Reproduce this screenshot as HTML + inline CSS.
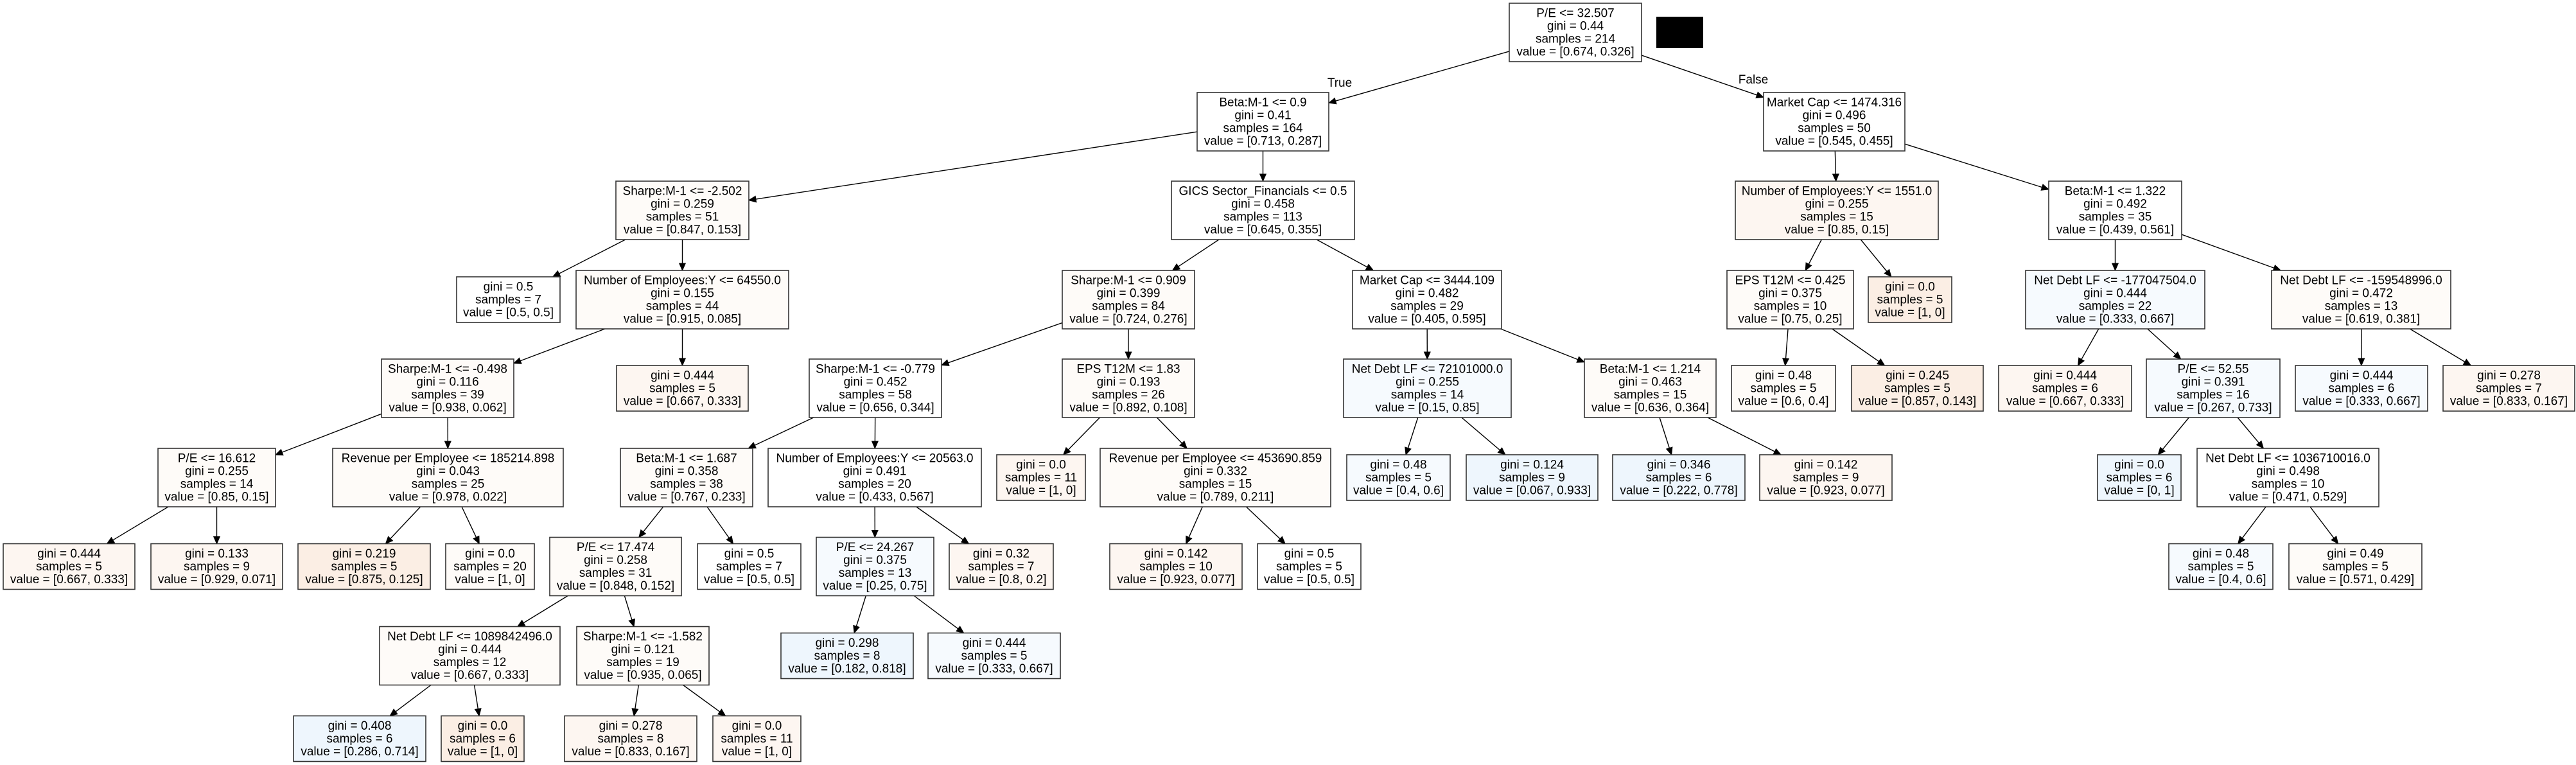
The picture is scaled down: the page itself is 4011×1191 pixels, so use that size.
<!DOCTYPE html>
<html><head><meta charset="utf-8"><style>
html,body{margin:0;padding:0;background:#fff;}
svg{display:block;}
text{font-family:"Liberation Sans",Arial,sans-serif;font-size:19px;fill:#000;text-anchor:middle;}
rect{stroke:#333;stroke-width:1.6;}
.w{fill:#ffffff}.o1{fill:#fefbf8}.o2{fill:#fdf6f1}.o3{fill:#fbeee4}.b1{fill:#f6fafe}.b2{fill:#eef6fd}
</style></head><body>
<svg id="s" width="4011" height="1191" viewBox="0 0 4011 1191" xmlns="http://www.w3.org/2000/svg">
<rect x="0" y="0" width="4011" height="1191" style="fill:#fff;stroke:none"/>
<g id="edges"></g>
<rect x="2579" y="26" width="73" height="49" style="fill:#000;stroke:none"/>
<text x="2086" y="135">True</text>
<text x="2730" y="130">False</text>

<rect id="n0" class="w" x="2350" y="5" width="206" height="91"/><text y="26.5"><tspan x="2453">P/E &lt;= 32.507</tspan><tspan x="2453" dy="20">gini = 0.44</tspan><tspan x="2453" dy="20">samples = 214</tspan><tspan x="2453" dy="20">value = [0.674, 0.326]</tspan></text>

<rect id="n1" class="w" x="1864" y="144" width="205" height="91"/><text y="165.5"><tspan x="1966.5">Beta:M-1 &lt;= 0.9</tspan><tspan x="1966.5" dy="20">gini = 0.41</tspan><tspan x="1966.5" dy="20">samples = 164</tspan><tspan x="1966.5" dy="20">value = [0.713, 0.287]</tspan></text>
<rect id="n2" class="w" x="2746" y="144" width="220" height="91"/><text y="165.5"><tspan x="2856">Market Cap &lt;= 1474.316</tspan><tspan x="2856" dy="20">gini = 0.496</tspan><tspan x="2856" dy="20">samples = 50</tspan><tspan x="2856" dy="20">value = [0.545, 0.455]</tspan></text>

<rect id="n3" class="o1" x="959" y="282" width="207" height="91"/><text y="303.5"><tspan x="1062.5">Sharpe:M-1 &lt;= -2.502</tspan><tspan x="1062.5" dy="20">gini = 0.259</tspan><tspan x="1062.5" dy="20">samples = 51</tspan><tspan x="1062.5" dy="20">value = [0.847, 0.153]</tspan></text>
<rect id="n4" class="w" x="1824" y="282" width="285" height="91"/><text y="303.5"><tspan x="1966.5">GICS Sector_Financials &lt;= 0.5</tspan><tspan x="1966.5" dy="20">gini = 0.458</tspan><tspan x="1966.5" dy="20">samples = 113</tspan><tspan x="1966.5" dy="20">value = [0.645, 0.355]</tspan></text>
<rect id="n5" class="o2" x="2702" y="282" width="316" height="91"/><text y="303.5"><tspan x="2860">Number of Employees:Y &lt;= 1551.0</tspan><tspan x="2860" dy="20">gini = 0.255</tspan><tspan x="2860" dy="20">samples = 15</tspan><tspan x="2860" dy="20">value = [0.85, 0.15]</tspan></text>
<rect id="n6" class="w" x="3190" y="282" width="207" height="91"/><text y="303.5"><tspan x="3293.5">Beta:M-1 &lt;= 1.322</tspan><tspan x="3293.5" dy="20">gini = 0.492</tspan><tspan x="3293.5" dy="20">samples = 35</tspan><tspan x="3293.5" dy="20">value = [0.439, 0.561]</tspan></text>

<rect id="n7" class="w" x="711" y="431" width="161" height="71"/><text y="452.5"><tspan x="791.5">gini = 0.5</tspan><tspan x="791.5" dy="20">samples = 7</tspan><tspan x="791.5" dy="20">value = [0.5, 0.5]</tspan></text>
<rect id="n8" class="o1" x="897" y="421" width="331" height="91"/><text y="442.5"><tspan x="1062.5">Number of Employees:Y &lt;= 64550.0</tspan><tspan x="1062.5" dy="20">gini = 0.155</tspan><tspan x="1062.5" dy="20">samples = 44</tspan><tspan x="1062.5" dy="20">value = [0.915, 0.085]</tspan></text>
<rect id="n9" class="o1" x="1654" y="421" width="206" height="91"/><text y="442.5"><tspan x="1757">Sharpe:M-1 &lt;= 0.909</tspan><tspan x="1757" dy="20">gini = 0.399</tspan><tspan x="1757" dy="20">samples = 84</tspan><tspan x="1757" dy="20">value = [0.724, 0.276]</tspan></text>
<rect id="n10" class="w" x="2106" y="421" width="232" height="91"/><text y="442.5"><tspan x="2222">Market Cap &lt;= 3444.109</tspan><tspan x="2222" dy="20">gini = 0.482</tspan><tspan x="2222" dy="20">samples = 29</tspan><tspan x="2222" dy="20">value = [0.405, 0.595]</tspan></text>
<rect id="n11" class="o1" x="2689" y="421" width="197" height="91"/><text y="442.5"><tspan x="2787.5">EPS T12M &lt;= 0.425</tspan><tspan x="2787.5" dy="20">gini = 0.375</tspan><tspan x="2787.5" dy="20">samples = 10</tspan><tspan x="2787.5" dy="20">value = [0.75, 0.25]</tspan></text>
<rect id="n12" class="o3" x="2909" y="431" width="130" height="71"/><text y="452.5"><tspan x="2974">gini = 0.0</tspan><tspan x="2974" dy="20">samples = 5</tspan><tspan x="2974" dy="20">value = [1, 0]</tspan></text>
<rect id="n13" class="b1" x="3154" y="421" width="279" height="91"/><text y="442.5"><tspan x="3293.5">Net Debt LF &lt;= -177047504.0</tspan><tspan x="3293.5" dy="20">gini = 0.444</tspan><tspan x="3293.5" dy="20">samples = 22</tspan><tspan x="3293.5" dy="20">value = [0.333, 0.667]</tspan></text>
<rect id="n14" class="o1" x="3537" y="421" width="279" height="91"/><text y="442.5"><tspan x="3676.5">Net Debt LF &lt;= -159548996.0</tspan><tspan x="3676.5" dy="20">gini = 0.472</tspan><tspan x="3676.5" dy="20">samples = 13</tspan><tspan x="3676.5" dy="20">value = [0.619, 0.381]</tspan></text>

<rect id="n15" class="o1" x="594" y="559" width="206" height="91"/><text y="580.5"><tspan x="697">Sharpe:M-1 &lt;= -0.498</tspan><tspan x="697" dy="20">gini = 0.116</tspan><tspan x="697" dy="20">samples = 39</tspan><tspan x="697" dy="20">value = [0.938, 0.062]</tspan></text>
<rect id="n16" class="o2" x="960" y="569" width="205" height="71"/><text y="590.5"><tspan x="1062.5">gini = 0.444</tspan><tspan x="1062.5" dy="20">samples = 5</tspan><tspan x="1062.5" dy="20">value = [0.667, 0.333]</tspan></text>
<rect id="n17" class="w" x="1260" y="559" width="206" height="91"/><text y="580.5"><tspan x="1363">Sharpe:M-1 &lt;= -0.779</tspan><tspan x="1363" dy="20">gini = 0.452</tspan><tspan x="1363" dy="20">samples = 58</tspan><tspan x="1363" dy="20">value = [0.656, 0.344]</tspan></text>
<rect id="n18" class="o1" x="1654" y="559" width="206" height="91"/><text y="580.5"><tspan x="1757">EPS T12M &lt;= 1.83</tspan><tspan x="1757" dy="20">gini = 0.193</tspan><tspan x="1757" dy="20">samples = 26</tspan><tspan x="1757" dy="20">value = [0.892, 0.108]</tspan></text>
<rect id="n19" class="b1" x="2092" y="559" width="261" height="91"/><text y="580.5"><tspan x="2222.5">Net Debt LF &lt;= 72101000.0</tspan><tspan x="2222.5" dy="20">gini = 0.255</tspan><tspan x="2222.5" dy="20">samples = 14</tspan><tspan x="2222.5" dy="20">value = [0.15, 0.85]</tspan></text>
<rect id="n20" class="o1" x="2467" y="559" width="205" height="91"/><text y="580.5"><tspan x="2569.5">Beta:M-1 &lt;= 1.214</tspan><tspan x="2569.5" dy="20">gini = 0.463</tspan><tspan x="2569.5" dy="20">samples = 15</tspan><tspan x="2569.5" dy="20">value = [0.636, 0.364]</tspan></text>
<rect id="n21" class="o1" x="2696" y="569" width="162" height="71"/><text y="590.5"><tspan x="2777">gini = 0.48</tspan><tspan x="2777" dy="20">samples = 5</tspan><tspan x="2777" dy="20">value = [0.6, 0.4]</tspan></text>
<rect id="n22" class="o3" x="2883" y="569" width="205" height="71"/><text y="590.5"><tspan x="2985.5">gini = 0.245</tspan><tspan x="2985.5" dy="20">samples = 5</tspan><tspan x="2985.5" dy="20">value = [0.857, 0.143]</tspan></text>
<rect id="n23" class="o2" x="3112" y="569" width="207" height="71"/><text y="590.5"><tspan x="3215.5">gini = 0.444</tspan><tspan x="3215.5" dy="20">samples = 6</tspan><tspan x="3215.5" dy="20">value = [0.667, 0.333]</tspan></text>
<rect id="n24" class="b1" x="3342" y="559" width="208" height="91"/><text y="580.5"><tspan x="3446">P/E &lt;= 52.55</tspan><tspan x="3446" dy="20">gini = 0.391</tspan><tspan x="3446" dy="20">samples = 16</tspan><tspan x="3446" dy="20">value = [0.267, 0.733]</tspan></text>
<rect id="n25" class="b1" x="3574" y="569" width="206" height="71"/><text y="590.5"><tspan x="3677">gini = 0.444</tspan><tspan x="3677" dy="20">samples = 6</tspan><tspan x="3677" dy="20">value = [0.333, 0.667]</tspan></text>
<rect id="n26" class="o2" x="3804" y="569" width="205" height="71"/><text y="590.5"><tspan x="3906.5">gini = 0.278</tspan><tspan x="3906.5" dy="20">samples = 7</tspan><tspan x="3906.5" dy="20">value = [0.833, 0.167]</tspan></text>

<rect id="n27" class="o1" x="246" y="698" width="183" height="91"/><text y="719.5"><tspan x="337.5">P/E &lt;= 16.612</tspan><tspan x="337.5" dy="20">gini = 0.255</tspan><tspan x="337.5" dy="20">samples = 14</tspan><tspan x="337.5" dy="20">value = [0.85, 0.15]</tspan></text>
<rect id="n28" class="o1" x="518" y="698" width="359" height="91"/><text y="719.5"><tspan x="697.5">Revenue per Employee &lt;= 185214.898</tspan><tspan x="697.5" dy="20">gini = 0.043</tspan><tspan x="697.5" dy="20">samples = 25</tspan><tspan x="697.5" dy="20">value = [0.978, 0.022]</tspan></text>
<rect id="n29" class="o1" x="966" y="698" width="206" height="91"/><text y="719.5"><tspan x="1069">Beta:M-1 &lt;= 1.687</tspan><tspan x="1069" dy="20">gini = 0.358</tspan><tspan x="1069" dy="20">samples = 38</tspan><tspan x="1069" dy="20">value = [0.767, 0.233]</tspan></text>
<rect id="n30" class="w" x="1196" y="698" width="332" height="91"/><text y="719.5"><tspan x="1362">Number of Employees:Y &lt;= 20563.0</tspan><tspan x="1362" dy="20">gini = 0.491</tspan><tspan x="1362" dy="20">samples = 20</tspan><tspan x="1362" dy="20">value = [0.433, 0.567]</tspan></text>
<rect id="n31" class="o2" x="1552" y="708" width="138" height="71"/><text y="729.5"><tspan x="1621">gini = 0.0</tspan><tspan x="1621" dy="20">samples = 11</tspan><tspan x="1621" dy="20">value = [1, 0]</tspan></text>
<rect id="n32" class="o1" x="1713" y="698" width="359" height="91"/><text y="719.5"><tspan x="1892.5">Revenue per Employee &lt;= 453690.859</tspan><tspan x="1892.5" dy="20">gini = 0.332</tspan><tspan x="1892.5" dy="20">samples = 15</tspan><tspan x="1892.5" dy="20">value = [0.789, 0.211]</tspan></text>
<rect id="n33" class="b1" x="2097" y="708" width="161" height="71"/><text y="729.5"><tspan x="2177.5">gini = 0.48</tspan><tspan x="2177.5" dy="20">samples = 5</tspan><tspan x="2177.5" dy="20">value = [0.4, 0.6]</tspan></text>
<rect id="n34" class="b2" x="2283" y="708" width="205" height="71"/><text y="729.5"><tspan x="2385.5">gini = 0.124</tspan><tspan x="2385.5" dy="20">samples = 9</tspan><tspan x="2385.5" dy="20">value = [0.067, 0.933]</tspan></text>
<rect id="n35" class="b2" x="2511" y="708" width="206" height="71"/><text y="729.5"><tspan x="2614">gini = 0.346</tspan><tspan x="2614" dy="20">samples = 6</tspan><tspan x="2614" dy="20">value = [0.222, 0.778]</tspan></text>
<rect id="n36" class="o2" x="2740" y="708" width="206" height="71"/><text y="729.5"><tspan x="2843">gini = 0.142</tspan><tspan x="2843" dy="20">samples = 9</tspan><tspan x="2843" dy="20">value = [0.923, 0.077]</tspan></text>
<rect id="n37" class="b2" x="3266" y="708" width="130" height="71"/><text y="729.5"><tspan x="3331">gini = 0.0</tspan><tspan x="3331" dy="20">samples = 6</tspan><tspan x="3331" dy="20">value = [0, 1]</tspan></text>
<rect id="n38" class="w" x="3421" y="698" width="283" height="91"/><text y="719.5"><tspan x="3562.5">Net Debt LF &lt;= 1036710016.0</tspan><tspan x="3562.5" dy="20">gini = 0.498</tspan><tspan x="3562.5" dy="20">samples = 10</tspan><tspan x="3562.5" dy="20">value = [0.471, 0.529]</tspan></text>

<rect id="n39" class="o2" x="5" y="846.5" width="205" height="71"/><text y="868"><tspan x="107.5">gini = 0.444</tspan><tspan x="107.5" dy="20">samples = 5</tspan><tspan x="107.5" dy="20">value = [0.667, 0.333]</tspan></text>
<rect id="n40" class="o2" x="235" y="846.5" width="205" height="71"/><text y="868"><tspan x="337.5">gini = 0.133</tspan><tspan x="337.5" dy="20">samples = 9</tspan><tspan x="337.5" dy="20">value = [0.929, 0.071]</tspan></text>
<rect id="n41" class="o3" x="464" y="846.5" width="206" height="71"/><text y="868"><tspan x="567">gini = 0.219</tspan><tspan x="567" dy="20">samples = 5</tspan><tspan x="567" dy="20">value = [0.875, 0.125]</tspan></text>
<rect id="n42" class="o1" x="694" y="846.5" width="138" height="71"/><text y="868"><tspan x="763">gini = 0.0</tspan><tspan x="763" dy="20">samples = 20</tspan><tspan x="763" dy="20">value = [1, 0]</tspan></text>
<rect id="n43" class="o1" x="856" y="836.5" width="205" height="91"/><text y="858"><tspan x="958.5">P/E &lt;= 17.474</tspan><tspan x="958.5" dy="20">gini = 0.258</tspan><tspan x="958.5" dy="20">samples = 31</tspan><tspan x="958.5" dy="20">value = [0.848, 0.152]</tspan></text>
<rect id="n44" class="w" x="1086" y="846.5" width="161" height="71"/><text y="868"><tspan x="1166.5">gini = 0.5</tspan><tspan x="1166.5" dy="20">samples = 7</tspan><tspan x="1166.5" dy="20">value = [0.5, 0.5]</tspan></text>
<rect id="n45" class="b1" x="1271" y="836.5" width="183" height="91"/><text y="858"><tspan x="1362.5">P/E &lt;= 24.267</tspan><tspan x="1362.5" dy="20">gini = 0.375</tspan><tspan x="1362.5" dy="20">samples = 13</tspan><tspan x="1362.5" dy="20">value = [0.25, 0.75]</tspan></text>
<rect id="n46" class="o2" x="1478" y="846.5" width="162" height="71"/><text y="868"><tspan x="1559">gini = 0.32</tspan><tspan x="1559" dy="20">samples = 7</tspan><tspan x="1559" dy="20">value = [0.8, 0.2]</tspan></text>
<rect id="n47" class="o2" x="1728" y="846.5" width="206" height="71"/><text y="868"><tspan x="1831">gini = 0.142</tspan><tspan x="1831" dy="20">samples = 10</tspan><tspan x="1831" dy="20">value = [0.923, 0.077]</tspan></text>
<rect id="n48" class="w" x="1958" y="846.5" width="161" height="71"/><text y="868"><tspan x="2038.5">gini = 0.5</tspan><tspan x="2038.5" dy="20">samples = 5</tspan><tspan x="2038.5" dy="20">value = [0.5, 0.5]</tspan></text>
<rect id="n49" class="b1" x="3377" y="846.5" width="162" height="71"/><text y="868"><tspan x="3458">gini = 0.48</tspan><tspan x="3458" dy="20">samples = 5</tspan><tspan x="3458" dy="20">value = [0.4, 0.6]</tspan></text>
<rect id="n50" class="o1" x="3564" y="846.5" width="207" height="71"/><text y="868"><tspan x="3667.5">gini = 0.49</tspan><tspan x="3667.5" dy="20">samples = 5</tspan><tspan x="3667.5" dy="20">value = [0.571, 0.429]</tspan></text>

<rect id="n51" class="o1" x="591" y="975.5" width="281" height="91"/><text y="997"><tspan x="731.5">Net Debt LF &lt;= 1089842496.0</tspan><tspan x="731.5" dy="20">gini = 0.444</tspan><tspan x="731.5" dy="20">samples = 12</tspan><tspan x="731.5" dy="20">value = [0.667, 0.333]</tspan></text>
<rect id="n52" class="o1" x="898" y="975.5" width="206" height="91"/><text y="997"><tspan x="1001">Sharpe:M-1 &lt;= -1.582</tspan><tspan x="1001" dy="20">gini = 0.121</tspan><tspan x="1001" dy="20">samples = 19</tspan><tspan x="1001" dy="20">value = [0.935, 0.065]</tspan></text>
<rect id="n53" class="b2" x="1216" y="985.5" width="206" height="71"/><text y="1007"><tspan x="1319">gini = 0.298</tspan><tspan x="1319" dy="20">samples = 8</tspan><tspan x="1319" dy="20">value = [0.182, 0.818]</tspan></text>
<rect id="n54" class="b1" x="1445" y="985.5" width="206" height="71"/><text y="1007"><tspan x="1548">gini = 0.444</tspan><tspan x="1548" dy="20">samples = 5</tspan><tspan x="1548" dy="20">value = [0.333, 0.667]</tspan></text>

<rect id="n55" class="b2" x="457" y="1114.5" width="206" height="71"/><text y="1136"><tspan x="560">gini = 0.408</tspan><tspan x="560" dy="20">samples = 6</tspan><tspan x="560" dy="20">value = [0.286, 0.714]</tspan></text>
<rect id="n56" class="o3" x="687" y="1114.5" width="129" height="71"/><text y="1136"><tspan x="751.5">gini = 0.0</tspan><tspan x="751.5" dy="20">samples = 6</tspan><tspan x="751.5" dy="20">value = [1, 0]</tspan></text>
<rect id="n57" class="o2" x="879" y="1114.5" width="206" height="71"/><text y="1136"><tspan x="982">gini = 0.278</tspan><tspan x="982" dy="20">samples = 8</tspan><tspan x="982" dy="20">value = [0.833, 0.167]</tspan></text>
<rect id="n58" class="o2" x="1110" y="1114.5" width="137" height="71"/><text y="1136"><tspan x="1178.5">gini = 0.0</tspan><tspan x="1178.5" dy="20">samples = 11</tspan><tspan x="1178.5" dy="20">value = [1, 0]</tspan></text>
</svg>
<script>
(function(){
var E=[[0,1],[0,2],[1,3],[1,4],[2,5],[2,6],[3,7],[3,8],[4,9],[4,10],[5,11],[5,12],[6,13],[6,14],[8,15],[8,16],[9,17],[9,18],[10,19],[10,20],[11,21],[11,22],[13,23],[13,24],[14,25],[14,26],[15,27],[15,28],[17,29],[17,30],[18,31],[18,32],[19,33],[19,34],[20,35],[20,36],[24,37],[24,38],[27,39],[27,40],[28,41],[28,42],[29,43],[29,44],[30,45],[30,46],[32,47],[32,48],[38,49],[38,50],[43,51],[43,52],[45,53],[45,54],[51,55],[51,56],[52,57],[52,58]];
var NS="http://www.w3.org/2000/svg",g=document.getElementById("edges");
function box(i){var r=document.getElementById("n"+i);var x=+r.getAttribute("x"),y=+r.getAttribute("y"),w=+r.getAttribute("width"),h=+r.getAttribute("height");return{cx:x+w/2,cy:y+h/2,hw:w/2,hh:h/2};}
function clip(b,dx,dy){var t=1e9;if(dy!==0)t=Math.min(t,b.hh/Math.abs(dy));if(dx!==0)t=Math.min(t,b.hw/Math.abs(dx));return t;}
E.forEach(function(e){
var p=box(e[0]),c=box(e[1]);var dx=c.cx-p.cx,dy=c.cy-p.cy;
var t=clip(p,dx,dy),s=clip(c,dx,dy);
var x1=p.cx+dx*t,y1=p.cy+dy*t,x2=c.cx-dx*s,y2=c.cy-dy*s;
var L=Math.sqrt(dx*dx+dy*dy),ux=dx/L,uy=dy/L,al=11,aw=4.8;
var bx=x2-ux*al,by=y2-uy*al;
var l=document.createElementNS(NS,"line");
l.setAttribute("x1",x1);l.setAttribute("y1",y1);l.setAttribute("x2",bx);l.setAttribute("y2",by);
l.setAttribute("stroke","#000");l.setAttribute("stroke-width","1.4");g.appendChild(l);
var pg=document.createElementNS(NS,"polygon");
pg.setAttribute("points",x2+","+y2+" "+(bx-uy*aw)+","+(by+ux*aw)+" "+(bx+uy*aw)+","+(by-ux*aw));
pg.setAttribute("fill","#000");pg.setAttribute("stroke","#000");pg.setAttribute("stroke-width","1");g.appendChild(pg);
});
})();
</script>
</body></html>
